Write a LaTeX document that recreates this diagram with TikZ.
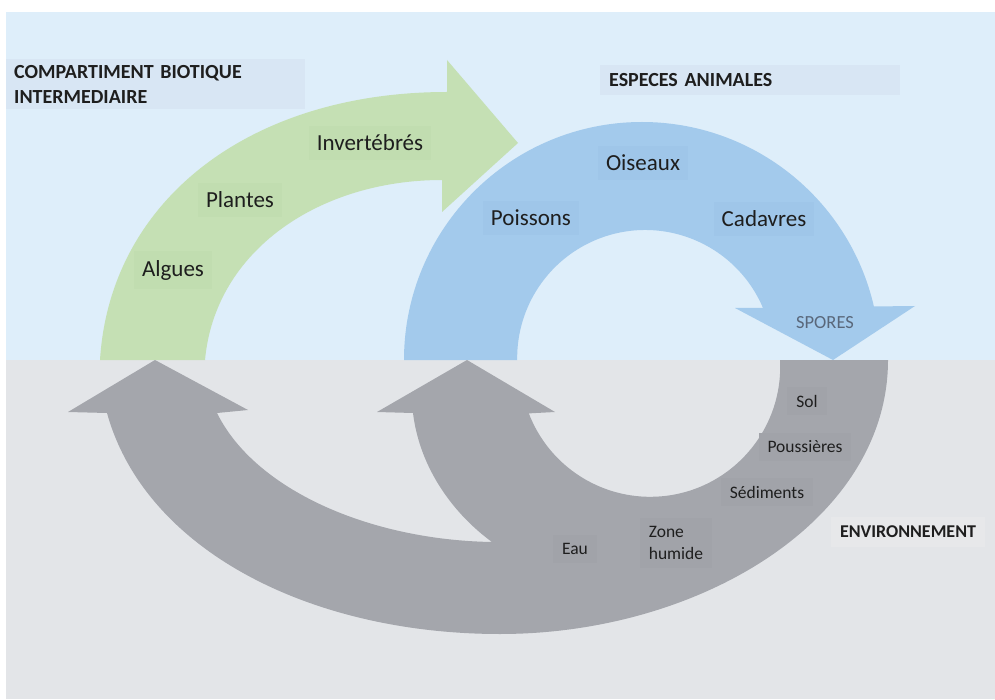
\documentclass[tikz,border=0pt]{standalone}
\usepackage{fontspec}
\setmainfont{Carlito}
\definecolor{bgtop}{HTML}{DEEEFA}
\definecolor{bgbot}{HTML}{E3E5E8}
\definecolor{greenA}{HTML}{C5E0B4}
\definecolor{blueA}{HTML}{A3CAEC}
\definecolor{grayA}{HTML}{A4A6AC}
\definecolor{titlebox}{HTML}{D8E6F4}
\definecolor{greenbox}{HTML}{C1DDB0}
\definecolor{bluebox}{HTML}{9FC6E9}
\definecolor{graybox}{HTML}{A1A3A9}
\definecolor{envbox}{HTML}{E7E8EA}
\definecolor{txt}{HTML}{1E1E1E}
\definecolor{sporetxt}{HTML}{59677A}
\tikzset{
  title/.style={font=\fontsize{20}{25}\selectfont\bfseries, text=txt, fill=titlebox, align=left, inner ysep=6pt},
  arclbl/.style={font=\fontsize{23}{27}\selectfont, text=txt, inner xsep=8pt, inner ysep=9pt},
  envlbl/.style={font=\fontsize{17.5}{22}\selectfont, text=txt, inner xsep=9pt, inner ysep=8pt, fill=graybox, align=left},
}
\begin{document}
\begin{tikzpicture}[x=1pt,y=-1pt]
\useasboundingbox (0,0) rectangle (995,700);
% backgrounds
\fill[white] (0,0) rectangle (995,700);
\fill[bgtop] (6,12) rectangle (995,360);
\fill[bgbot] (6,360) rectangle (995,699);
% green arrow
\fill[greenA] (100,360) .. controls (110,200) and (250,92) .. (447,92)
  -- (447,60) -- (518,143) -- (442,212) -- (442,180)
  .. controls (320,180) and (215,250) .. (205,360) -- cycle;
% blue arrow
\fill[blueA] (404,360) arc[start angle=180,end angle=347,radius=238]
  -- (915,306) -- (833,360) -- (735,308) -- (763,308)
  arc[start angle=337,end angle=180,radius=128] -- (517,360) -- cycle;
% gray arrows
\fill[grayA] (780,360) arc[start angle=-3,end angle=159,radius=130]
  -- (555,412) -- (467,360) -- (377,412) -- (413,413)
  .. controls (420,470) and (455,515) .. (492,542)
  .. controls (370,540) and (255,490) .. (217,413)
  -- (248,410) -- (155,360) -- (68,412) -- (107,413)
  .. controls (145,550) and (310,634) .. (500,634)
  .. controls (700,634) and (888,520) .. (888,360) -- cycle;
% titles
\node[title, anchor=west, minimum width=299pt, text width=283pt] (comp) at (6,84) {COMPARTIMENT BIOTIQUE\\INTERMEDIAIRE};
\node[title, anchor=west, minimum width=300pt, text width=282pt, inner ysep=8pt] (esp) at (600,80) {ESPECES ANIMALES};
\node[font=\fontsize{18}{22}\selectfont\bfseries, text=txt, fill=envbox, inner xsep=9pt, inner ysep=9pt] (env) at (908,532) {ENVIRONNEMENT};
% green labels
\node[arclbl, fill=greenbox] (inv) at (370,143) {Invertébrés};
\node[arclbl, fill=greenbox] (pla) at (240,200) {Plantes};
\node[arclbl, fill=greenbox] (alg) at (173,270) {Algues};
% blue labels
\node[arclbl, fill=bluebox] (ois) at (643,163) {Oiseaux};
\node[arclbl, fill=bluebox] (poi) at (531,218) {Poissons};
\node[arclbl, fill=bluebox] (cad) at (764,219) {Cadavres};
\node[font=\fontsize{18.5}{22}\selectfont, text=sporetxt, inner sep=2pt] (spo) at (825,323) {SPORES};
% environment labels
\node[envlbl] (sol) at (807,401) {Sol};
\node[envlbl] (pou) at (805,447) {Poussières};
\node[envlbl] (sed) at (767,492) {Sédiments};
\node[envlbl] (zon) at (676,543) {Zone\\humide};
\node[envlbl] (eau) at (575,549) {Eau};
\end{tikzpicture}
\end{document}
